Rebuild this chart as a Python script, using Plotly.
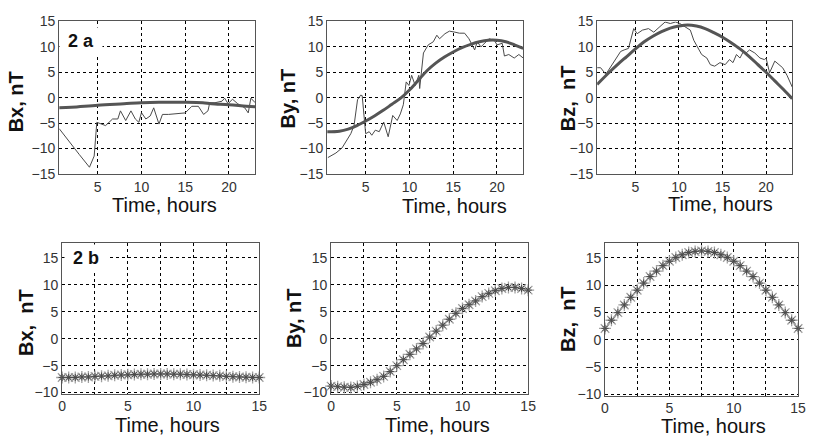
import plotly.graph_objects as go

# ---------------- data: panel 2a (top row) ----------------
bx_obs_t = [0.6, 1.8, 2.9, 4.06, 4.6, 4.9, 5.9, 6.7, 7.3, 7.6, 8.2, 8.8, 9.3, 9.7, 10.0, 10.5, 11.0, 11.4,
            12.0, 12.4, 13.1, 15.0, 15.75, 16.5, 17.1, 17.6, 17.8, 18.4, 19.2, 19.5, 19.9, 20.4, 21.0,
            21.8, 22.2, 22.5, 23.0]
bx_obs = [-6.1, -8.65, -11.2, -13.7, -11.5, -4.85, -5.5, -4.2, -4.2, -2.6, -4.5, -2.6, -4.2, -4.85,
          -2.95, -4.2, -3.6, -2.0, -5.2, -3.3, -3.3, -3.0, -1.7, -1.7, -3.3, -2.6, -1.0, -1.0, -0.7,
          -0.1, -1.2, -0.3, -1.2, -2.0, -3.0, -0.1, -1.0]
bx_fit_t = [0.6, 2, 5, 8, 10, 12, 15, 17, 18, 20, 22, 23]
bx_fit = [-2.0, -1.9, -1.5, -1.2, -1.0, -0.9, -0.9, -1.0, -1.2, -1.4, -1.7, -1.8]

by_obs_t = [0.68, 1.6, 2.3, 3.3, 3.67, 4.07, 4.43, 4.6, 5.0, 5.4, 5.7, 6.1, 6.55, 7.06, 7.57, 8.09, 8.6,
            8.96, 9.3, 9.63, 9.94, 10.25, 10.66, 11.07, 11.17, 11.6, 12.15, 12.72, 13.13, 13.44, 14.06,
            14.57, 15.2, 15.7, 16.3, 16.8, 17.45, 17.75, 18.17, 18.6, 19.1, 19.7, 20.0, 20.6, 20.85,
            21.35, 21.97, 22.5, 23.0]
by_obs = [-11.8, -10.9, -9.9, -7.1, -5.5, -0.4, 0.5, 0.4, -7.1, -6.7, -7.4, -6.4, -6.7, -4.8, -7.7,
          -3.5, -4.5, -3.2, -1.4, 3.1, 2.4, 4.4, 2.4, 4.4, 1.8, 8.8, 10.4, 11.0, 12.3, 11.6, 12.6,
          13.1, 12.9, 12.7, 12.7, 11.6, 9.4, 11.0, 10.0, 10.7, 11.6, 11.3, 10.4, 10.7, 8.2, 8.5, 7.8,
          8.5, 7.8]
by_fit_t = [0.6, 2, 3, 4, 5, 6, 7, 8, 9, 10, 11, 12, 13, 14, 15, 16, 17, 18, 19, 20, 21, 22, 23]
by_fit = [-6.7, -6.6, -6.2, -5.5, -4.6, -3.6, -2.5, -1.3, -0.1, 1.5, 3.4, 5.3, 6.8, 8.0, 9.0, 9.85,
          10.5, 11.0, 11.3, 11.3, 11.0, 10.4, 9.7]

bz_obs_t = [0.6, 1.0, 1.6, 2.5, 3.3, 3.7, 4.2, 4.8, 5.2, 5.8, 6.5, 7.1, 7.7, 8.4, 9.0, 9.6, 10.1, 10.7,
            11.3, 11.7, 12.0, 12.6, 13.2, 13.6, 14.1, 14.7, 15.3, 15.8, 16.2, 16.6, 17.0, 17.4, 17.7,
            18.1, 18.7, 19.3, 19.8, 20.0, 20.4, 21.0, 21.9, 22.4, 23.0]
bz_obs = [5.9, 5.9, 4.6, 6.9, 9.1, 9.4, 9.7, 13.6, 12.6, 13.3, 13.6, 12.9, 13.9, 14.9, 14.6, 14.9, 14.6,
          13.9, 13.3, 11.3, 10.4, 8.5, 7.8, 6.5, 6.2, 6.9, 6.5, 7.5, 6.9, 8.5, 7.8, 9.1, 8.8, 9.4, 8.8,
          7.8, 7.5, 7.8, 4.9, 7.2, 5.9, 4.4, 2.1]
bz_fit_t = [0.6, 2, 3, 4, 5, 6, 7, 8, 9, 10, 11, 12, 13, 14, 15, 16, 17, 18, 19, 20, 21, 22, 23]
bz_fit = [2.6, 5.0, 6.6, 8.1, 9.6, 11.0, 12.1, 13.0, 13.7, 14.1, 14.3, 14.1, 13.6, 12.8, 11.9, 10.8,
          9.6, 8.2, 6.6, 5.0, 3.3, 1.6, -0.2]

# ---------------- data: panel 2b (bottom row) ----------------
t_b = [0, 0.5, 1, 1.5, 2, 2.5, 3, 3.5, 4, 4.5, 5, 5.5, 6, 6.5, 7, 7.5, 8, 8.5, 9, 9.5, 10, 10.5, 11,
       11.5, 12, 12.5, 13, 13.5, 14, 14.5, 15]
bx_b = [-7.2, -7.2, -7.2, -7.1, -7.1, -7.0, -6.95, -6.9, -6.8, -6.75, -6.7, -6.65, -6.6, -6.6, -6.55,
        -6.55, -6.55, -6.6, -6.6, -6.65, -6.7, -6.75, -6.8, -6.85, -6.9, -7.0, -7.05, -7.1, -7.15,
        -7.2, -7.2]
by_b = [-8.8, -8.9, -9.0, -9.05, -8.85, -8.5, -8.1, -7.6, -7.0, -6.1, -5.0, -3.9, -2.9, -1.9, -0.9,
        0.3, 1.4, 2.5, 3.6, 4.7, 5.6, 6.3, 7.0, 7.8, 8.4, 8.9, 9.3, 9.5, 9.5, 9.3, 9.0]
bz_b = [2.1, 3.6, 5.0, 6.4, 7.8, 9.1, 10.4, 11.6, 12.6, 13.6, 14.4, 15.1, 15.6, 16.0, 16.2, 16.3,
        16.2, 16.0, 15.6, 15.1, 14.4, 13.6, 12.6, 11.6, 10.4, 9.1, 7.8, 6.4, 5.0, 3.6, 2.1]

top_yticks = [-15, -10, -5, 0, 5, 10, 15]
top_xticks = [5, 10, 15, 20]
bot_yticks = [-10, -5, 0, 5, 10, 15]
bot_xticks = [0, 2.5, 5, 7.5, 10, 12.5, 15]
bot_xtext = ["0", "", "5", "", "10", "", "15"]

W, H = 814, 446
FONT = "Arial, Liberation Sans, sans-serif"

# panel boxes in pixels: (left, right, top, bottom)
boxes = [(56, 255, 14, 172), (328, 527, 14, 172), (602, 800, 14, 172),
         (59, 259, 244, 400), (332, 532, 244, 400), (610, 806, 244, 402)]

fig = go.Figure()

def add_top(i, t_obs, obs, t_fit, fit):
    ax = "" if i == 1 else str(i)
    fig.add_trace(go.Scatter(x=t_obs, y=obs, mode="lines", xaxis="x" + ax, yaxis="y" + ax,
                             line=dict(color="#4a4a4a", width=1), showlegend=False))
    fig.add_trace(go.Scatter(x=t_fit, y=fit, mode="lines", xaxis="x" + ax, yaxis="y" + ax,
                             line=dict(color="#555555", width=3, shape="spline"), showlegend=False))

def add_bot(i, vals):
    ax = str(i)
    fig.add_trace(go.Scatter(x=t_b, y=vals, mode="lines+markers", xaxis="x" + ax, yaxis="y" + ax,
                             line=dict(color="#b0b0b0", width=1.5), cliponaxis=False,
                             marker=dict(symbol="asterisk-open", size=10, color="#a0a0a0",
                                         line=dict(color="#a0a0a0", width=1.3)),
                             showlegend=False))
    fig.add_trace(go.Scatter(x=t_b, y=vals, mode="markers", xaxis="x" + ax, yaxis="y" + ax,
                             cliponaxis=False,
                             marker=dict(symbol="asterisk-open", size=6, color="#4a4a4a",
                                         line=dict(color="#4a4a4a", width=1)),
                             showlegend=False))

add_top(1, bx_obs_t, bx_obs, bx_fit_t, bx_fit)
add_top(2, by_obs_t, by_obs, by_fit_t, by_fit)
add_top(3, bz_obs_t, bz_obs, bz_fit_t, bz_fit)
add_bot(4, bx_b)
add_bot(5, by_b)
add_bot(6, bz_b)

common = dict(showline=True, mirror=True, linecolor="#555555", linewidth=1, zeroline=False,
              showgrid=True, gridcolor="black", gridwidth=1, griddash="3px,3px", ticks="",
              tickfont=dict(family=FONT, size=14, color="#333333"))

layout = {}
for i, (l, r, t, b) in enumerate(boxes, start=1):
    ax = "" if i == 1 else str(i)
    xd = [l / W, r / W]
    yd = [1 - b / H, 1 - t / H]
    if i <= 3:
        xa = dict(common, domain=xd, range=[0.6, 23], tickmode="array", tickvals=top_xticks,
                  anchor="y" + ax)
        ya = dict(common, domain=yd, range=[-15, 15], tickmode="array", tickvals=top_yticks,
                  anchor="x" + ax)
    else:
        xa = dict(common, domain=xd, range=[0, 15], tickmode="array", tickvals=bot_xticks,
                  ticktext=bot_xtext, anchor="y" + ax)
        ya = dict(common, domain=yd, range=[-10.2, 17.7], tickmode="array", tickvals=bot_yticks,
                  anchor="x" + ax)
    layout["xaxis" + ax] = xa
    layout["yaxis" + ax] = ya

annotations = []
ytitles = [("Bx, nT", 12, 97), ("By, nT", 288, 94), ("Bz,\u00a0 nT", 572, 94),
           ("Bx,\u00a0 nT", 23, 326), ("By, nT", 295, 322), ("Bz,\u00a0 nT", 573, 323)]
for txt, px, py in ytitles:
    annotations.append(dict(text="<b>" + txt + "</b>", x=px / W, y=1 - py / H, xref="paper",
                            yref="paper", showarrow=False, textangle=-90,
                            font=dict(family=FONT, size=20, color="#111111"),
                            xanchor="center", yanchor="middle"))
xtitles = [(163, 204), (457, 205), (727, 203), (166, 433), (440, 432), (720, 434)]
for px, py in xtitles:
    annotations.append(dict(text="Time, hours", x=px / W, y=1 - py / H, xref="paper",
                            yref="paper", showarrow=False,
                            font=dict(family=FONT, size=20, color="#111111"),
                            xanchor="center", yanchor="middle"))
for txt, px, py in [("2 a", 78, 34), ("2 b", 83, 259)]:
    annotations.append(dict(text="<b>" + txt + "</b>", x=px / W, y=1 - py / H, xref="paper",
                            yref="paper", showarrow=False, bgcolor="white", width=40, height=24,
                            font=dict(family=FONT, size=18, color="#111111"),
                            xanchor="center", yanchor="middle"))

fig.update_layout(width=W, height=H, margin=dict(l=0, r=0, t=0, b=0),
                  paper_bgcolor="white", plot_bgcolor="white",
                  annotations=annotations, **layout)

fig.write_html("out.html", config={"displayModeBar": False},
               post_script="document.body.style.margin='0';")
